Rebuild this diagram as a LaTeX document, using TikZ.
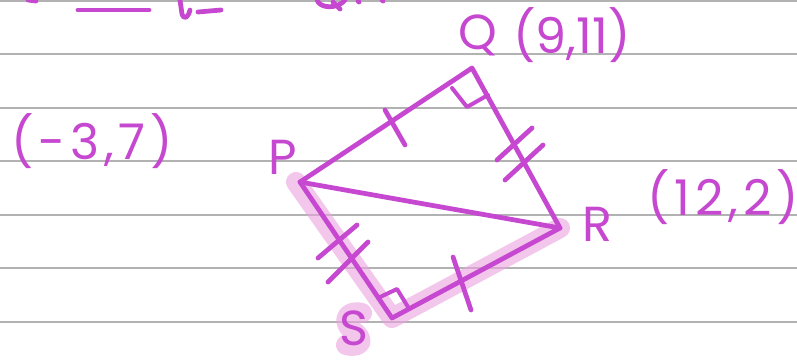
\documentclass[tikz,border=0pt]{standalone}
\usepackage{fontspec}
\newfontfamily\handfont[LetterSpace=10]{Poppins}
\newfontfamily\handtight[LetterSpace=0]{Poppins}
\usetikzlibrary{calc}
\definecolor{inkpurple}{RGB}{198,72,208}
\definecolor{hlpink}{RGB}{236,160,222}
\definecolor{rulegray}{RGB}{178,178,178}

\begin{document}
\begin{tikzpicture}[
    x=0.02cm, y=-0.02cm,
    ink/.style={draw=inkpurple, line width=0.95mm, line cap=round, line join=round},
    hilite/.style={draw=hlpink, line width=4mm, line cap=round, line join=round, opacity=0.6},
    ruled/.style={draw=rulegray, line width=0.8pt},
    lbl/.style={text=inkpurple, inner sep=0pt, font=\handfont\fontsize{28}{32}\selectfont}
]
\useasboundingbox[fill=white] (0,0) rectangle (797,360);

% ruled paper
\foreach \ry in {1,54,108,161,215,268,322}
    \draw[ruled] (0,\ry) -- (797,\ry);

% vertices
\coordinate (P) at (300,182);
\coordinate (Q) at (472,68);
\coordinate (R) at (560,228);
\coordinate (S) at (392,318);

% highlighter on P-S-R and the S label
\draw[hilite] ($(P)+(-4,0)$) -- (S) -- (R);
\draw[hilite] (362,313) .. controls (345,309) and (342,323) .. (352,330)
    .. controls (366,339) and (362,349) .. (346,345);

% quadrilateral and diagonal
\draw[ink] (P) -- (Q) -- (R) -- (S) -- cycle;
\draw[ink] (P) -- (R);

% right angles
\draw[ink, line width=0.8mm] (452,88) -- (467,107) -- (488,95);
\draw[ink, line width=0.8mm] (378,298) -- (397,289) -- (408,307);

% equal-side ticks
\draw[ink] (385,110) -- (405,145);
\draw[ink] (453,257) -- (471,310);
\draw[ink] (497,160) -- (532,128);
\draw[ink] (505,180) -- (543,145);
\draw[ink] (318,258) -- (357,225);
\draw[ink] (328,282) -- (368,242);

% labels
\node[lbl] (lQ) at (478,35) {Q};
\node[lbl, font=\handtight\fontsize{28}{32}\selectfont] (cQ) at (572,35) {(9,11)};
\node[lbl] (lP) at (283,157) {P};
\node[lbl] (cP) at (92,141) {(-3,7)};
\node[lbl] (lR) at (597,224) {R};
\node[lbl] (cR) at (723,197) {(12,2)};
\node[lbl] (lS) at (354,328) {S};

% cut-off writing along the top edge
\draw[ink] (78,10) -- (149,10);
\draw[ink] (180,0) -- (182,14) .. controls (184,20) and (188,18) .. (190,10);
\draw[ink] (198,12) -- (221,10);
\draw[ink] (317,0) .. controls (320,9) and (338,9) .. (345,0);
\draw[ink] (333,2) -- (340,9);
\draw[ink] (358,1) -- (359,2);
\draw[ink] (382,0) -- (383,1);
\draw[ink] (28,0) -- (36,1);
\end{tikzpicture}
\end{document}
